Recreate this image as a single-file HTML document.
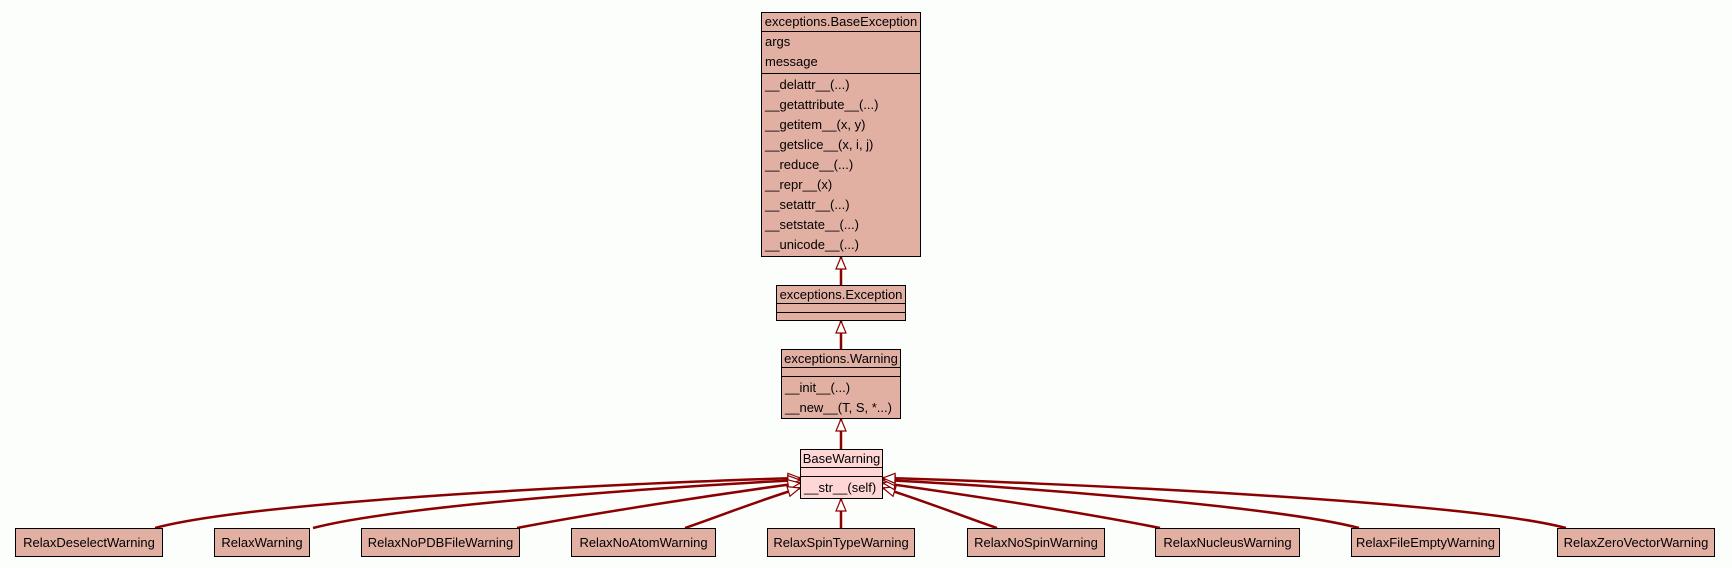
<!DOCTYPE html>
<html><head><meta charset="utf-8"><style>
html,body{margin:0;padding:0}
body{width:1732px;height:568px;background:#fcfefc;position:relative;overflow:hidden;font-family:"Liberation Sans",Arial,sans-serif;font-size:13px;color:#000}
.b{position:absolute;background:#e2b0a3;border:1.5px solid #000;box-sizing:border-box}
.t{position:absolute;left:0;right:0;text-align:center;white-space:nowrap}
.r{position:absolute;left:3px;white-space:nowrap}
.l{position:absolute;left:0;right:0;height:0;border-top:1.5px solid #000}
svg{position:absolute;left:0;top:0}
</style></head><body>
<svg width="1732" height="568" viewBox="0 0 1732 568">
<defs>
<marker id="a" markerWidth="14" markerHeight="12" refX="13" refY="6" orient="auto" markerUnits="userSpaceOnUse">
<path d="M1,1 L13,6 L1,11 Z" fill="#fff" stroke="#8b0000" stroke-width="1.2"/>
</marker>
</defs>
<g fill="none" stroke="#8b0000" stroke-width="2.5" marker-end="url(#a)">
<path d="M841,285 L841,257"/>
<path d="M841,349 L841,321"/>
<path d="M841,449 L841,419"/>
<path d="M841,528 L841,499"/>
<path d="M155,528 C260,500 650,482 800,478"/>
<path d="M313,528 C400,505 680,486 800,480"/>
<path d="M517,528 C600,512 720,494 800,483"/>
<path d="M685,528 C720,516 760,500 800,488"/>
<path d="M997,528 C962,516 922,500 883,488"/>
<path d="M1160,528 C1080,512 960,494 883,483"/>
<path d="M1359,528 C1270,505 1000,486 883,480"/>
<path d="M1566,528 C1460,500 1030,482 883,478"/>
</g>
</svg>

<div class="b" style="left:761px;top:12px;width:160px;height:245px">
<div class="t" style="top:1px">exceptions.BaseException</div>
<div class="l" style="top:18px"></div>
<div class="r" style="top:21px">args</div>
<div class="r" style="top:41px">message</div>
<div class="l" style="top:60px"></div>
<div class="r" style="top:64px">__delattr__(...)</div>
<div class="r" style="top:84px">__getattribute__(...)</div>
<div class="r" style="top:104px">__getitem__(x, y)</div>
<div class="r" style="top:124px">__getslice__(x, i, j)</div>
<div class="r" style="top:144px">__reduce__(...)</div>
<div class="r" style="top:164px">__repr__(x)</div>
<div class="r" style="top:184px">__setattr__(...)</div>
<div class="r" style="top:204px">__setstate__(...)</div>
<div class="r" style="top:224px">__unicode__(...)</div>
</div>

<div class="b" style="left:776px;top:285px;width:130px;height:36px">
<div class="t" style="top:1px">exceptions.Exception</div>
<div class="l" style="top:17px"></div>
<div class="l" style="top:26px"></div>
</div>

<div class="b" style="left:781px;top:349px;width:120px;height:70px">
<div class="t" style="top:1px">exceptions.Warning</div>
<div class="l" style="top:17px"></div>
<div class="l" style="top:26px"></div>
<div class="r" style="top:30px">__init__(...)</div>
<div class="r" style="top:50px">__new__(T, S, *...)</div>
</div>

<div class="b" style="left:800px;top:449px;width:83px;height:50px;background:#ffd6d6">
<div class="t" style="top:1px">BaseWarning</div>
<div class="l" style="top:17px"></div>
<div class="l" style="top:26px"></div>
<div class="r" style="top:30px">__str__(self)</div>
</div>

<div class="b" style="left:15px;top:528px;width:148px;height:29px"><div class="t" style="top:6px">RelaxDeselectWarning</div></div>
<div class="b" style="left:214px;top:528px;width:96px;height:29px"><div class="t" style="top:6px">RelaxWarning</div></div>
<div class="b" style="left:361px;top:528px;width:159px;height:29px"><div class="t" style="top:6px">RelaxNoPDBFileWarning</div></div>
<div class="b" style="left:571px;top:528px;width:145px;height:29px"><div class="t" style="top:6px">RelaxNoAtomWarning</div></div>
<div class="b" style="left:767px;top:528px;width:148px;height:29px"><div class="t" style="top:6px">RelaxSpinTypeWarning</div></div>
<div class="b" style="left:967px;top:528px;width:138px;height:29px"><div class="t" style="top:6px">RelaxNoSpinWarning</div></div>
<div class="b" style="left:1155px;top:528px;width:145px;height:29px"><div class="t" style="top:6px">RelaxNucleusWarning</div></div>
<div class="b" style="left:1351px;top:528px;width:149px;height:29px"><div class="t" style="top:6px">RelaxFileEmptyWarning</div></div>
<div class="b" style="left:1557px;top:528px;width:158px;height:29px"><div class="t" style="top:6px">RelaxZeroVectorWarning</div></div>
</body></html>
